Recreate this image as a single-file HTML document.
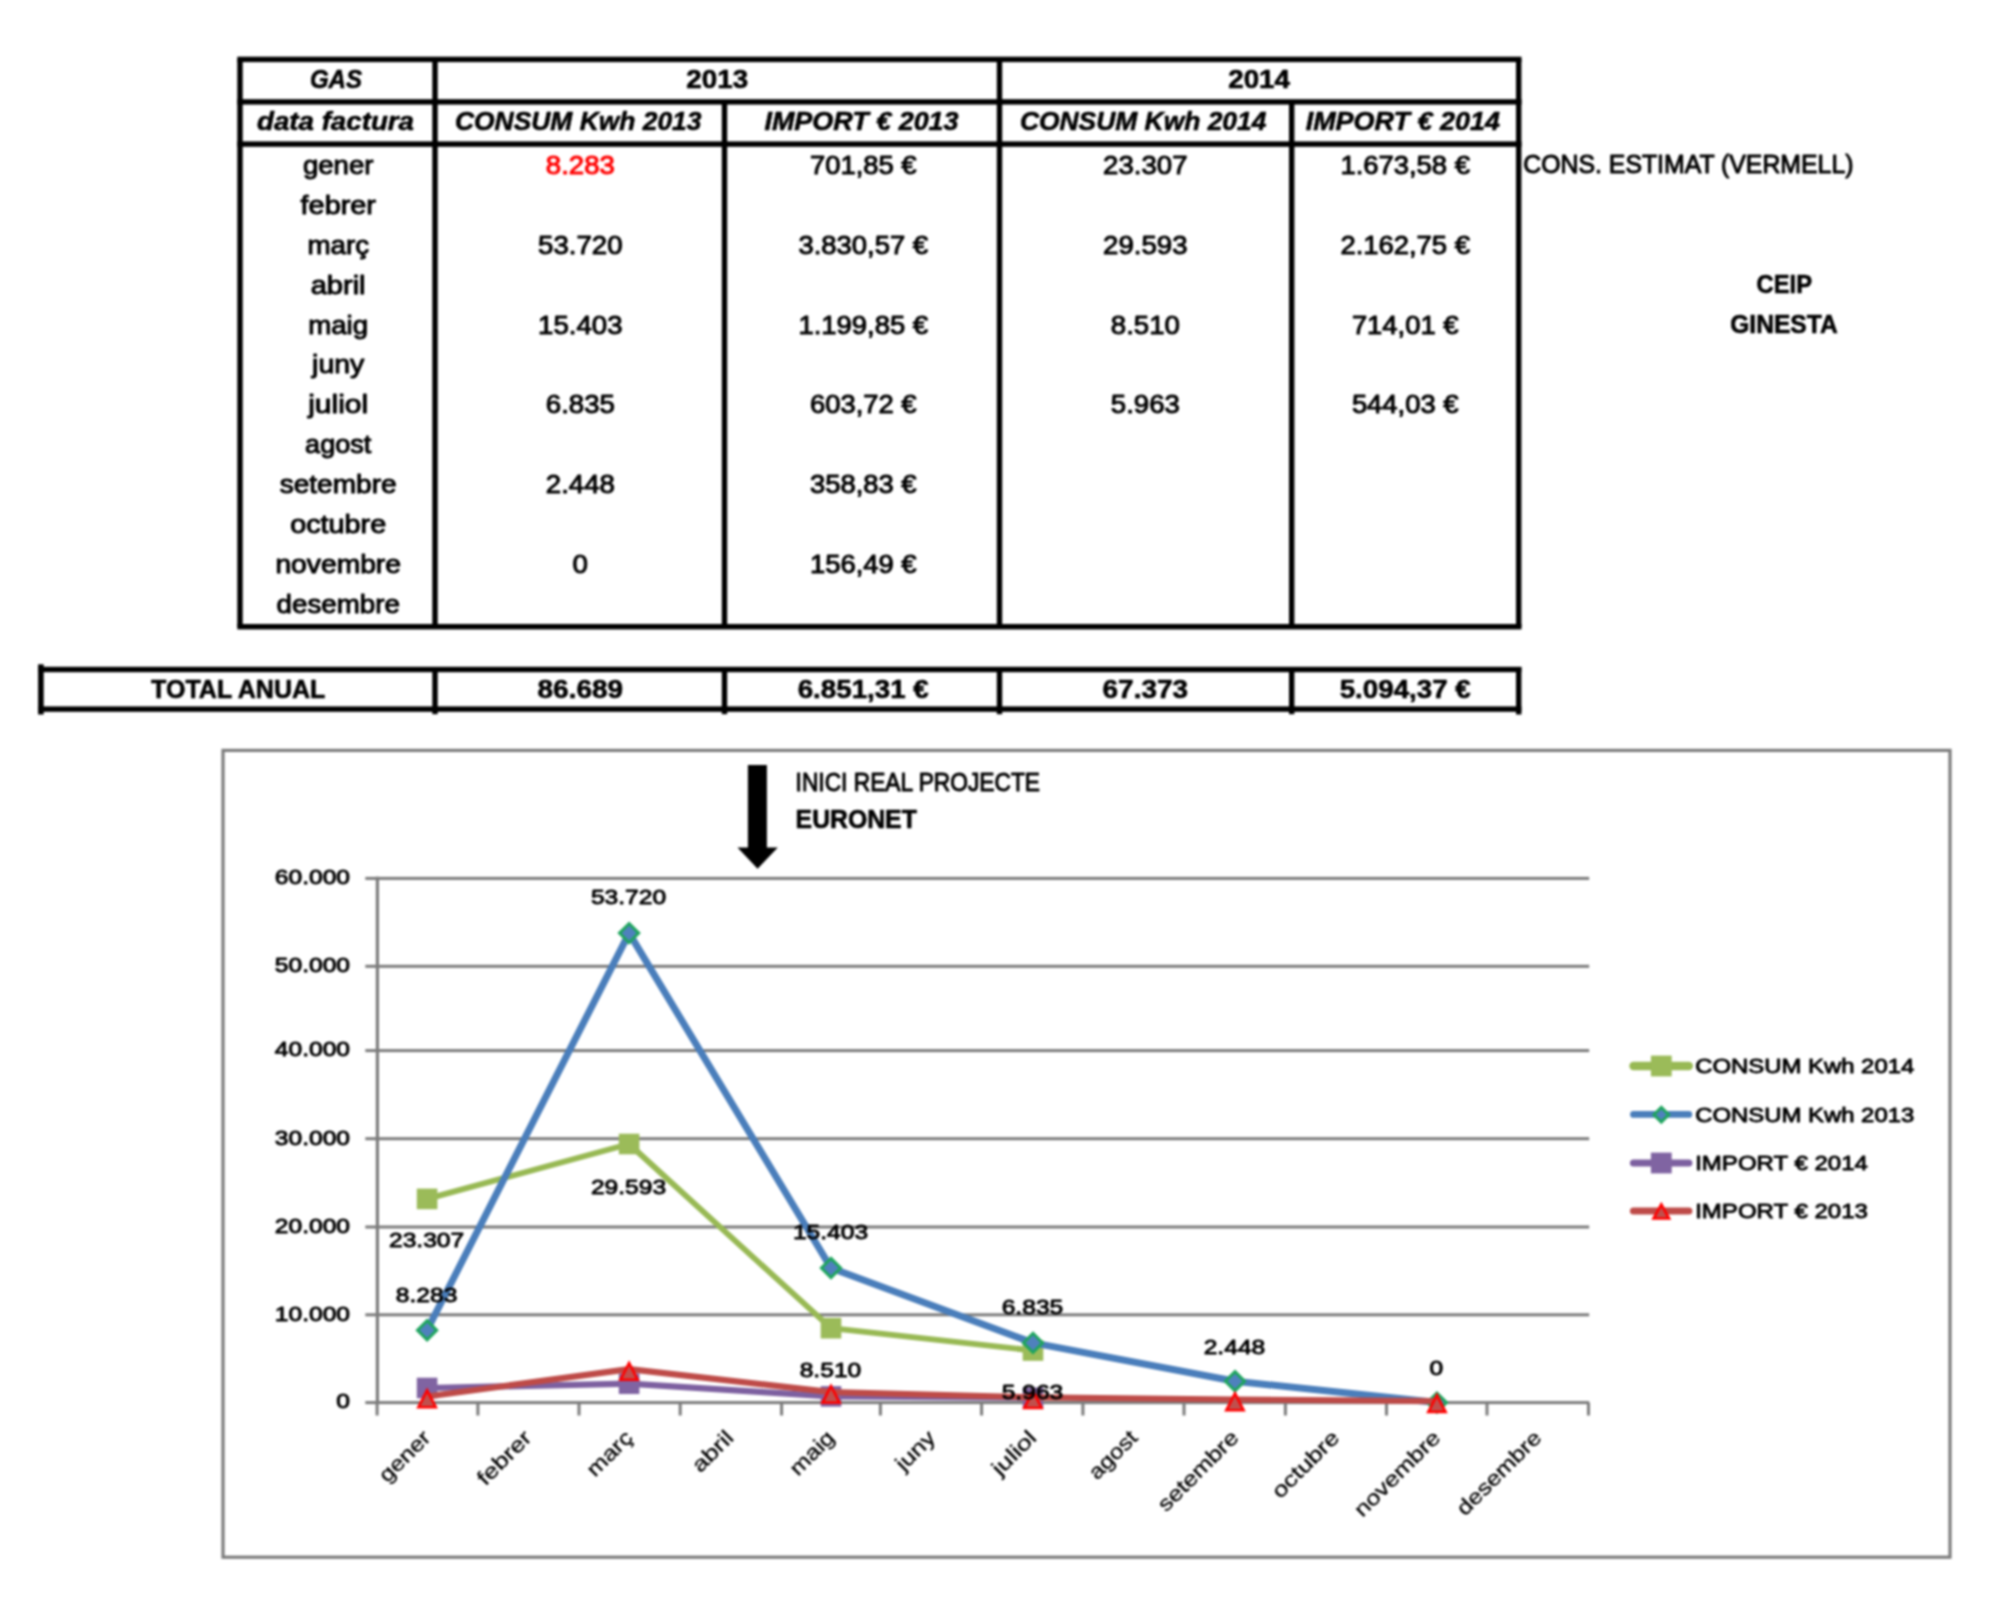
<!DOCTYPE html>
<html lang="ca">
<head>
<meta charset="utf-8">
<title>GAS - CEIP GINESTA</title>
<style>
html,body{margin:0;padding:0;background:#fff;}
body{width:2004px;height:1604px;overflow:hidden;}
svg{display:block;filter:blur(0.9px);}
svg text{font-family:"Liberation Sans",sans-serif;font-size:26px;fill:#000;stroke:#000;stroke-linejoin:round;}
svg text.b{font-weight:bold;stroke-width:0.6px;}
svg text.c{font-size:21px;stroke-width:0.9px;}
svg text.r{stroke-width:0.3px;}
svg text.bi{font-weight:bold;font-style:italic;stroke-width:0.6px;}
</style>
</head>
<body>
<svg width="2004" height="1604" viewBox="0 0 2004 1604">
<g id="table-lines">
<rect x="237.3" y="56.7" width="1284.2" height="5.4" fill="#000"/>
<rect x="237.3" y="99.2" width="1284.2" height="5.4" fill="#000"/>
<rect x="237.3" y="141.4" width="1284.2" height="5.4" fill="#000"/>
<rect x="237.3" y="624.0" width="1284.2" height="5.4" fill="#000"/>
<rect x="237.3" y="59.4" width="5.4" height="567.4" fill="#000"/>
<rect x="1516.0" y="59.4" width="5.4" height="567.4" fill="#000"/>
<rect x="432.3" y="59.4" width="5.4" height="567.4" fill="#000"/>
<rect x="996.8" y="59.4" width="5.4" height="567.4" fill="#000"/>
<rect x="721.8" y="101.9" width="5.4" height="524.9" fill="#000"/>
<rect x="1289.0" y="101.9" width="5.4" height="524.9" fill="#000"/>
<rect x="38.2" y="666.8" width="1483.2" height="5.4" fill="#000"/>
<rect x="38.2" y="706.4" width="1483.2" height="5.4" fill="#000"/>
<rect x="38.1" y="664.3" width="5.6" height="50.2" fill="#000"/>
<rect x="432.3" y="669.5" width="5.4" height="44.7" fill="#000"/>
<rect x="721.8" y="669.5" width="5.4" height="44.7" fill="#000"/>
<rect x="996.8" y="669.5" width="5.4" height="44.7" fill="#000"/>
<rect x="1289.0" y="669.5" width="5.4" height="44.7" fill="#000"/>
<rect x="1516.0" y="667.0" width="5.4" height="47.5" fill="#000"/>
</g>
<g id="table-text" stroke-width="1.0">
<text x="309.9" y="88.0" textLength="52.1" lengthAdjust="spacingAndGlyphs" class="bi">GAS</text>
<text x="686.3" y="88.0" textLength="61.8" lengthAdjust="spacingAndGlyphs" class="b">2013</text>
<text x="1228.2" y="88.0" textLength="61.8" lengthAdjust="spacingAndGlyphs" class="b">2014</text>
<text x="257.0" y="129.8" textLength="157.0" lengthAdjust="spacingAndGlyphs" class="bi">data factura</text>
<text x="455.0" y="129.8" textLength="246.5" lengthAdjust="spacingAndGlyphs" class="bi">CONSUM Kwh 2013</text>
<text x="764.4" y="129.8" textLength="194.2" lengthAdjust="spacingAndGlyphs" class="bi">IMPORT € 2013</text>
<text x="1019.9" y="129.8" textLength="246.5" lengthAdjust="spacingAndGlyphs" class="bi">CONSUM Kwh 2014</text>
<text x="1305.7" y="129.8" textLength="194.2" lengthAdjust="spacingAndGlyphs" class="bi">IMPORT € 2014</text>
<text x="302.9" y="173.6" textLength="70.6" lengthAdjust="spacingAndGlyphs">gener</text>
<text x="545.8" y="173.6" textLength="69.1" lengthAdjust="spacingAndGlyphs" style="fill:#ff0000;stroke:#ff0000">8.283</text>
<text x="810.0" y="173.6" textLength="106.6" lengthAdjust="spacingAndGlyphs">701,85 €</text>
<text x="1103.1" y="173.6" textLength="84.4" lengthAdjust="spacingAndGlyphs">23.307</text>
<text x="1340.4" y="173.6" textLength="129.6" lengthAdjust="spacingAndGlyphs">1.673,58 €</text>
<text x="300.6" y="213.6" textLength="75.3" lengthAdjust="spacingAndGlyphs">febrer</text>
<text x="307.4" y="253.5" textLength="61.7" lengthAdjust="spacingAndGlyphs">març</text>
<text x="538.1" y="253.5" textLength="84.4" lengthAdjust="spacingAndGlyphs">53.720</text>
<text x="798.5" y="253.5" textLength="129.6" lengthAdjust="spacingAndGlyphs">3.830,57 €</text>
<text x="1103.1" y="253.5" textLength="84.4" lengthAdjust="spacingAndGlyphs">29.593</text>
<text x="1340.4" y="253.5" textLength="129.6" lengthAdjust="spacingAndGlyphs">2.162,75 €</text>
<text x="310.7" y="293.5" textLength="54.9" lengthAdjust="spacingAndGlyphs">abril</text>
<text x="308.2" y="333.5" textLength="59.9" lengthAdjust="spacingAndGlyphs">maig</text>
<text x="538.1" y="333.5" textLength="84.4" lengthAdjust="spacingAndGlyphs">15.403</text>
<text x="798.5" y="333.5" textLength="129.6" lengthAdjust="spacingAndGlyphs">1.199,85 €</text>
<text x="1110.8" y="333.5" textLength="69.1" lengthAdjust="spacingAndGlyphs">8.510</text>
<text x="1351.9" y="333.5" textLength="106.6" lengthAdjust="spacingAndGlyphs">714,01 €</text>
<text x="312.1" y="373.4" textLength="52.2" lengthAdjust="spacingAndGlyphs">juny</text>
<text x="308.2" y="413.4" textLength="60.0" lengthAdjust="spacingAndGlyphs">juliol</text>
<text x="545.8" y="413.4" textLength="69.1" lengthAdjust="spacingAndGlyphs">6.835</text>
<text x="810.0" y="413.4" textLength="106.6" lengthAdjust="spacingAndGlyphs">603,72 €</text>
<text x="1110.8" y="413.4" textLength="69.1" lengthAdjust="spacingAndGlyphs">5.963</text>
<text x="1351.9" y="413.4" textLength="106.6" lengthAdjust="spacingAndGlyphs">544,03 €</text>
<text x="305.1" y="453.4" textLength="66.2" lengthAdjust="spacingAndGlyphs">agost</text>
<text x="279.7" y="493.4" textLength="117.0" lengthAdjust="spacingAndGlyphs">setembre</text>
<text x="545.8" y="493.4" textLength="69.1" lengthAdjust="spacingAndGlyphs">2.448</text>
<text x="810.0" y="493.4" textLength="106.6" lengthAdjust="spacingAndGlyphs">358,83 €</text>
<text x="290.2" y="533.3" textLength="96.0" lengthAdjust="spacingAndGlyphs">octubre</text>
<text x="275.4" y="573.3" textLength="125.6" lengthAdjust="spacingAndGlyphs">novembre</text>
<text x="572.6" y="573.3" textLength="15.4" lengthAdjust="spacingAndGlyphs">0</text>
<text x="810.0" y="573.3" textLength="106.6" lengthAdjust="spacingAndGlyphs">156,49 €</text>
<text x="276.6" y="613.3" textLength="123.3" lengthAdjust="spacingAndGlyphs">desembre</text>
<text x="151.1" y="698.2" textLength="174.3" lengthAdjust="spacingAndGlyphs" class="b">TOTAL ANUAL</text>
<text x="537.6" y="698.2" textLength="85.4" lengthAdjust="spacingAndGlyphs" class="b">86.689</text>
<text x="797.7" y="698.2" textLength="131.1" lengthAdjust="spacingAndGlyphs" class="b">6.851,31 €</text>
<text x="1102.6" y="698.2" textLength="85.4" lengthAdjust="spacingAndGlyphs" class="b">67.373</text>
<text x="1339.7" y="698.2" textLength="131.1" lengthAdjust="spacingAndGlyphs" class="b">5.094,37 €</text>
<text x="1523.3" y="173.3" textLength="330.2" lengthAdjust="spacingAndGlyphs">CONS. ESTIMAT (VERMELL)</text>
<text x="1756.6" y="293.3" textLength="55.4" lengthAdjust="spacingAndGlyphs" class="b">CEIP</text>
<text x="1730.2" y="333.2" textLength="107.5" lengthAdjust="spacingAndGlyphs" class="b">GINESTA</text>
</g>
<g id="chart" stroke-width="1.0">
<rect x="223" y="750.4" width="1727" height="806.8" fill="#fff" stroke="#7c7c7c" stroke-width="3.2"/>
<rect x="365.3" y="1401.1" width="1223.9" height="3.0" fill="#7c7c7c"/>
<text x="336.3" y="1408.4" textLength="13.7" lengthAdjust="spacingAndGlyphs" class="c">0</text>
<rect x="365.3" y="1313.3" width="1223.9" height="3.0" fill="#7c7c7c"/>
<text x="274.8" y="1320.6" textLength="75.2" lengthAdjust="spacingAndGlyphs" class="c">10.000</text>
<rect x="365.3" y="1225.5" width="1223.9" height="3.0" fill="#7c7c7c"/>
<text x="274.8" y="1232.8" textLength="75.2" lengthAdjust="spacingAndGlyphs" class="c">20.000</text>
<rect x="365.3" y="1137.2" width="1223.9" height="3.0" fill="#7c7c7c"/>
<text x="274.8" y="1144.5" textLength="75.2" lengthAdjust="spacingAndGlyphs" class="c">30.000</text>
<rect x="365.3" y="1049.1" width="1223.9" height="3.0" fill="#7c7c7c"/>
<text x="274.8" y="1056.4" textLength="75.2" lengthAdjust="spacingAndGlyphs" class="c">40.000</text>
<rect x="365.3" y="964.8" width="1223.9" height="3.0" fill="#7c7c7c"/>
<text x="274.8" y="972.1" textLength="75.2" lengthAdjust="spacingAndGlyphs" class="c">50.000</text>
<rect x="365.3" y="876.9" width="1223.9" height="3.0" fill="#7c7c7c"/>
<text x="274.8" y="884.2" textLength="75.2" lengthAdjust="spacingAndGlyphs" class="c">60.000</text>
<rect x="375.8" y="876.7" width="3.2" height="527.4" fill="#7c7c7c"/>
<rect x="375.6" y="1402.6" width="3.0" height="12.9" fill="#7c7c7c"/>
<rect x="476.4" y="1402.6" width="3.0" height="12.9" fill="#7c7c7c"/>
<rect x="577.5" y="1402.6" width="3.0" height="12.9" fill="#7c7c7c"/>
<rect x="678.7" y="1402.6" width="3.0" height="12.9" fill="#7c7c7c"/>
<rect x="780.1" y="1402.6" width="3.0" height="12.9" fill="#7c7c7c"/>
<rect x="878.9" y="1402.6" width="3.0" height="12.9" fill="#7c7c7c"/>
<rect x="980.1" y="1402.6" width="3.0" height="12.9" fill="#7c7c7c"/>
<rect x="1081.4" y="1402.6" width="3.0" height="12.9" fill="#7c7c7c"/>
<rect x="1182.5" y="1402.6" width="3.0" height="12.9" fill="#7c7c7c"/>
<rect x="1283.9" y="1402.6" width="3.0" height="12.9" fill="#7c7c7c"/>
<rect x="1385.0" y="1402.6" width="3.0" height="12.9" fill="#7c7c7c"/>
<rect x="1485.5" y="1402.6" width="3.0" height="12.9" fill="#7c7c7c"/>
<rect x="1587.0" y="1402.6" width="3.0" height="12.9" fill="#7c7c7c"/>
<polyline points="427.1,1198.9 629.1,1144.0 831.0,1328.2 1033.0,1350.5" fill="none" stroke="#98b954" stroke-width="5.8" stroke-linejoin="round" stroke-linecap="round"/>
<rect x="416.8" y="1188.6" width="20.6" height="20.6" fill="#9bbb59"/>
<rect x="618.8" y="1133.7" width="20.6" height="20.6" fill="#9bbb59"/>
<rect x="820.7" y="1317.9" width="20.6" height="20.6" fill="#9bbb59"/>
<rect x="1022.7" y="1340.2" width="20.6" height="20.6" fill="#9bbb59"/>
<polyline points="427.1,1330.2 629.1,933.1 831.0,1268.0 1033.0,1342.9 1235.0,1381.2 1436.9,1402.6" fill="none" stroke="#4a7ebb" stroke-width="7" stroke-linejoin="round" stroke-linecap="round"/>
<polygon points="427.1,1320.6 436.7,1330.2 427.1,1339.8 417.5,1330.2" fill="#4f81bd" stroke="#1fa55e" stroke-width="3"/>
<polygon points="629.1,923.5 638.7,933.1 629.1,942.7 619.5,933.1" fill="#4f81bd" stroke="#1fa55e" stroke-width="3"/>
<polygon points="831.0,1258.4 840.6,1268.0 831.0,1277.6 821.4,1268.0" fill="#4f81bd" stroke="#1fa55e" stroke-width="3"/>
<polygon points="1033.0,1333.3 1042.6,1342.9 1033.0,1352.5 1023.4,1342.9" fill="#4f81bd" stroke="#1fa55e" stroke-width="3"/>
<polygon points="1235.0,1371.6 1244.6,1381.2 1235.0,1390.8 1225.4,1381.2" fill="#4f81bd" stroke="#1fa55e" stroke-width="3"/>
<polygon points="1436.9,1393.0 1446.5,1402.6 1436.9,1412.2 1427.3,1402.6" fill="#4f81bd" stroke="#1fa55e" stroke-width="3"/>
<polyline points="427.1,1388.0 629.1,1383.7 831.0,1396.4 1033.0,1397.8" fill="none" stroke="#7d60a0" stroke-width="6.2" stroke-linejoin="round" stroke-linecap="round"/>
<rect x="416.8" y="1377.7" width="20.6" height="20.6" fill="#8064a2"/>
<rect x="618.8" y="1373.4" width="20.6" height="20.6" fill="#8064a2"/>
<rect x="820.7" y="1386.1" width="20.6" height="20.6" fill="#8064a2"/>
<rect x="1022.7" y="1387.5" width="20.6" height="20.6" fill="#8064a2"/>
<polyline points="427.1,1396.5 629.1,1369.1 831.0,1392.1 1033.0,1397.3 1235.0,1399.5 1436.9,1401.2" fill="none" stroke="#be4b48" stroke-width="6.2" stroke-linejoin="round" stroke-linecap="round"/>
<polygon points="427.1,1390.3 435.8,1407.2 418.4,1407.2" fill="#c0504d" stroke="#ff0000" stroke-width="2.6" stroke-linejoin="miter"/>
<polygon points="629.1,1363.0 637.7,1379.8 620.4,1379.8" fill="#c0504d" stroke="#ff0000" stroke-width="2.6" stroke-linejoin="miter"/>
<polygon points="831.0,1386.0 839.7,1402.8 822.4,1402.8" fill="#c0504d" stroke="#ff0000" stroke-width="2.6" stroke-linejoin="miter"/>
<polygon points="1033.0,1391.2 1041.7,1408.0 1024.3,1408.0" fill="#c0504d" stroke="#ff0000" stroke-width="2.6" stroke-linejoin="miter"/>
<polygon points="1235.0,1393.3 1243.6,1410.2 1226.3,1410.2" fill="#c0504d" stroke="#ff0000" stroke-width="2.6" stroke-linejoin="miter"/>
<polygon points="1436.9,1395.1 1445.6,1411.9 1428.3,1411.9" fill="#c0504d" stroke="#ff0000" stroke-width="2.6" stroke-linejoin="miter"/>
<text x="590.9" y="903.6" textLength="75.2" lengthAdjust="spacingAndGlyphs" class="c">53.720</text>
<text x="389.0" y="1247.0" textLength="75.2" lengthAdjust="spacingAndGlyphs" class="c">23.307</text>
<text x="395.8" y="1301.6" textLength="61.6" lengthAdjust="spacingAndGlyphs" class="c">8.283</text>
<text x="590.9" y="1193.8" textLength="75.2" lengthAdjust="spacingAndGlyphs" class="c">29.593</text>
<text x="792.9" y="1238.5" textLength="75.2" lengthAdjust="spacingAndGlyphs" class="c">15.403</text>
<text x="799.7" y="1376.6" textLength="61.6" lengthAdjust="spacingAndGlyphs" class="c">8.510</text>
<text x="1001.7" y="1313.6" textLength="61.6" lengthAdjust="spacingAndGlyphs" class="c">6.835</text>
<text x="1001.7" y="1399.4" textLength="61.6" lengthAdjust="spacingAndGlyphs" class="c">5.963</text>
<text x="1203.7" y="1354.3" textLength="61.6" lengthAdjust="spacingAndGlyphs" class="c">2.448</text>
<text x="1429.6" y="1375.4" textLength="13.7" lengthAdjust="spacingAndGlyphs" class="c">0</text>
<text transform="translate(431.9,1439) rotate(-45)" x="-63.0" y="0" textLength="63.0" lengthAdjust="spacingAndGlyphs" class="c r">gener</text>
<text transform="translate(532.9,1439) rotate(-45)" x="-67.1" y="0" textLength="67.1" lengthAdjust="spacingAndGlyphs" class="c r">febrer</text>
<text transform="translate(633.9,1439) rotate(-45)" x="-54.9" y="0" textLength="54.9" lengthAdjust="spacingAndGlyphs" class="c r">març</text>
<text transform="translate(734.8,1439) rotate(-45)" x="-48.9" y="0" textLength="48.9" lengthAdjust="spacingAndGlyphs" class="c r">abril</text>
<text transform="translate(835.8,1439) rotate(-45)" x="-53.4" y="0" textLength="53.4" lengthAdjust="spacingAndGlyphs" class="c r">maig</text>
<text transform="translate(936.8,1439) rotate(-45)" x="-46.6" y="0" textLength="46.6" lengthAdjust="spacingAndGlyphs" class="c r">juny</text>
<text transform="translate(1037.8,1439) rotate(-45)" x="-53.5" y="0" textLength="53.5" lengthAdjust="spacingAndGlyphs" class="c r">juliol</text>
<text transform="translate(1138.8,1439) rotate(-45)" x="-59.0" y="0" textLength="59.0" lengthAdjust="spacingAndGlyphs" class="c r">agost</text>
<text transform="translate(1239.8,1439) rotate(-45)" x="-104.3" y="0" textLength="104.3" lengthAdjust="spacingAndGlyphs" class="c r">setembre</text>
<text transform="translate(1340.7,1439) rotate(-45)" x="-85.6" y="0" textLength="85.6" lengthAdjust="spacingAndGlyphs" class="c r">octubre</text>
<text transform="translate(1441.7,1439) rotate(-45)" x="-111.9" y="0" textLength="111.9" lengthAdjust="spacingAndGlyphs" class="c r">novembre</text>
<text transform="translate(1542.7,1439) rotate(-45)" x="-109.9" y="0" textLength="109.9" lengthAdjust="spacingAndGlyphs" class="c r">desembre</text>
<line x1="1633.5" y1="1066.0" x2="1688.8" y2="1066.0" stroke="#98b954" stroke-width="8.4" stroke-linecap="round"/>
<rect x="1650.9" y="1055.6" width="20.8" height="20.8" fill="#9bbb59"/>
<text x="1695.2" y="1073.4" textLength="219.1" lengthAdjust="spacingAndGlyphs" class="c">CONSUM Kwh 2014</text>
<line x1="1633.5" y1="1114.4" x2="1688.8" y2="1114.4" stroke="#4a7ebb" stroke-width="6.8" stroke-linecap="round"/>
<polygon points="1661.3,1107.3 1668.7,1114.7 1661.3,1122.1 1653.9,1114.7" fill="#4f81bd" stroke="#1fa55e" stroke-width="3"/>
<text x="1695.2" y="1121.8" textLength="219.1" lengthAdjust="spacingAndGlyphs" class="c">CONSUM Kwh 2013</text>
<line x1="1633.5" y1="1163.0" x2="1688.8" y2="1163.0" stroke="#7d60a0" stroke-width="7.2" stroke-linecap="round"/>
<rect x="1650.9" y="1152.6" width="20.8" height="20.8" fill="#8064a2"/>
<text x="1695.2" y="1170.4" textLength="172.7" lengthAdjust="spacingAndGlyphs" class="c">IMPORT € 2014</text>
<line x1="1633.5" y1="1211.0" x2="1688.8" y2="1211.0" stroke="#be4b48" stroke-width="7.2" stroke-linecap="round"/>
<polygon points="1661.3,1204.5 1669.1,1218.5 1653.5,1218.5" fill="#c0504d" stroke="#ff0000" stroke-width="2.6" stroke-linejoin="miter"/>
<text x="1695.2" y="1218.4" textLength="172.7" lengthAdjust="spacingAndGlyphs" class="c">IMPORT € 2013</text>
<polygon points="747.9,765 766.9,765 766.9,847.4 777.8,847.4 757.6,868.8 737.5,847.4 747.9,847.4" fill="#000"/>
<text x="795.6" y="791.3" textLength="244.4" lengthAdjust="spacingAndGlyphs">INICI REAL PROJECTE</text>
<text x="795.6" y="828.0" textLength="121.2" lengthAdjust="spacingAndGlyphs" class="b">EURONET</text>
</g>
</svg>
</body>
</html>
